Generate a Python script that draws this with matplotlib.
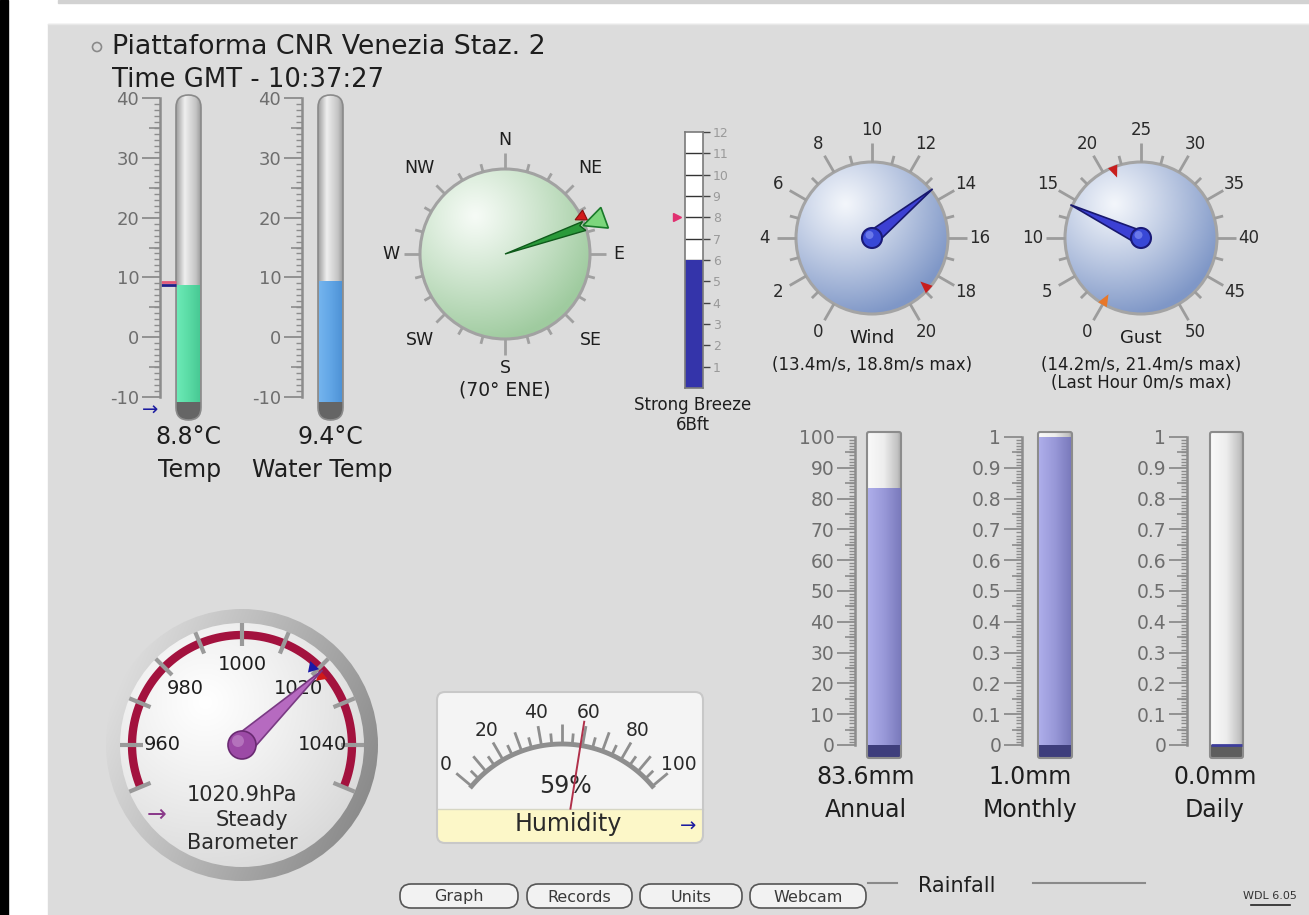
import numpy as np
import matplotlib.pyplot as plt
import matplotlib.colors as mcolors
from matplotlib.patches import Circle, Rectangle, Polygon, FancyBboxPatch
from matplotlib.ticker import MultipleLocator, FuncFormatter

plt.rcParams["font.family"] = ["DejaVu Sans"]
plt.rcParams["axes.unicode_minus"] = False

# ── Data ──────────────────────────────────────────────────────────────────────
station = "Piattaforma CNR Venezia Staz. 2"
time_gmt = "10:37:27"

temp_names = ["Temp", "Water Temp"]
temp_values = [8.8, 9.4]
temp_hi, temp_lo = 9.3, 8.7          # today's max / min marks on air temp

compass_points = ["N", "NE", "E", "SE", "S", "SW", "W", "NW"]
wind_dir = 70
wind_dir_name = "ENE"
wind_dir_mark = 64

bft_value = 6
bft_max = 8
bft_name = "Strong Breeze"

wind_speed, wind_max = 13.4, 18.8
gust_speed, gust_max, gust_hour = 14.2, 21.4, 0.0
wind_ticks = list(range(0, 21, 2))
gust_ticks = list(range(0, 51, 5))

pressure = 1020.9
pressure_lo, pressure_hi = 1018.8, 1021.8
pressure_trend = "Steady"
baro_labels = [960, 980, 1000, 1020, 1040]
baro_range = (950, 1050)

humidity = 59
hum_labels = [0, 20, 40, 60, 80, 100]

rain_names = ["Annual", "Monthly", "Daily"]
rain_values = [83.6, 1.0, 0.0]
rain_scale = [100, 1, 1]

buttons = ["Graph", "Records", "Units", "Webcam"]

# ── Style / layout ────────────────────────────────────────────────────────────
W, H = 1309, 915
PANEL = "#dcdcdc"
TICK = "#8c8c8c"
SCALE_TXT = "#6e6e6e"
TXT = "#1e1e1e"

fig = plt.figure(figsize=(W / 100, H / 100), dpi=100)
fig.patch.set_facecolor("white")
ax = fig.add_axes([0, 0, 1, 1])
ax.axis("off")


def rgb(c):
    return np.array(mcolors.to_rgb(c))


def hgrad(a, x0, x1, y0, y1, colors, stops, clip=None, z=2):
    t = np.linspace(0, 1, 100)
    cols = np.array([rgb(c) for c in colors])
    row = np.stack([np.interp(t, stops, cols[:, k]) for k in range(3)], axis=-1)
    img = np.repeat(row[None], 2, axis=0)
    im = a.imshow(img, extent=(x0, x1, y0, y1), aspect="auto", zorder=z,
                  interpolation="bilinear")
    if clip is not None:
        im.set_clip_path(clip)


def sphere(cx, cy, r, c_hi, c_lo, z=2, hx=-0.35, hy=-0.45, spread=1.5):
    xs = np.linspace(-1, 1, 240)
    X, Y = np.meshgrid(xs, xs)
    d = np.clip(np.hypot(X - hx, Y - hy) / spread, 0, 1) ** 1.1
    img = rgb(c_hi) * (1 - d[..., None]) + rgb(c_lo) * d[..., None]
    im = ax.imshow(img, extent=(cx - r, cx + r, cy + r, cy - r), origin="upper",
                   aspect="auto", zorder=z, interpolation="bilinear")
    im.set_clip_path(Circle((cx, cy), r, transform=ax.transData))


def pol(cx, cy, r, ang):
    a = np.deg2rad(ang)
    return cx + r * np.sin(a), cy - r * np.cos(a)


def shape(cx, cy, ang, pts, **kw):
    a = np.deg2rad(ang)
    ux, uy = np.sin(a), -np.cos(a)
    px, py = np.cos(a), np.sin(a)
    xy = [(cx + s * ux + t * px, cy + s * uy + t * py) for s, t in pts]
    ax.add_patch(Polygon(xy, closed=True, **kw))


def radial_tick(cx, cy, ang, r0, r1, **kw):
    x0, y0 = pol(cx, cy, r0, ang)
    x1, y1 = pol(cx, cy, r1, ang)
    ax.plot([x0, x1], [y0, y1], solid_capstyle="butt", **kw)


def scale_axes(x0, x1, y_top, y_bot, vmin, vmax, major, minor_len=4.5, mid_len=9,
               labelsize=12.5):
    a = fig.add_axes([x0 / W, 1 - y_bot / H, (x1 - x0) / W, (y_bot - y_top) / H])
    a.set_xlim(x0, x1)
    a.set_ylim(vmin, vmax)
    a.patch.set_visible(False)
    for s in ("top", "right", "bottom"):
        a.spines[s].set_visible(False)
    a.spines["left"].set_color(TICK)
    a.spines["left"].set_linewidth(1.8)
    a.set_xticks([])
    a.yaxis.set_major_locator(MultipleLocator(major))
    a.yaxis.set_minor_locator(MultipleLocator(major / 10))
    a.yaxis.set_major_formatter(FuncFormatter(lambda v, p: f"{v:.10g}"))
    a.tick_params(axis="y", which="major", length=13, width=1.3, color=TICK,
                  labelsize=labelsize, labelcolor=SCALE_TXT, pad=2)
    a.tick_params(axis="y", which="minor", length=minor_len * 0.72, width=1.0, color=TICK)
    mids = np.arange(vmin + major / 2, vmax, major)
    a.hlines(mids, x0 - mid_len, x0, color=TICK, lw=1.2, clip_on=False)
    return a


# ── Page chrome ───────────────────────────────────────────────────────────────
ax.add_patch(Rectangle((0, 0), 8, H, color="black", zorder=1))
ax.add_patch(Rectangle((48, 24), W - 48, H - 24, color=PANEL, zorder=0.5))
ax.add_patch(Rectangle((58, 0), W - 58, 3, color="#d2d2d2", zorder=1))
ax.plot([48, W], [23.5, 23.5], color="#e8e8e8", lw=1, zorder=1)

ax.add_patch(Circle((97, 47), 4.5, fc="none", ec="#8a8a8a", lw=1.2, zorder=3))
ax.text(112, 47, station, fontsize=19.3, color=TXT, va="center", ha="left", zorder=5)
ax.text(112, 80, f"Time GMT - {time_gmt}", fontsize=18.6, color=TXT, va="center",
        ha="left", zorder=5)

# ── Thermometers ──────────────────────────────────────────────────────────────
therm_x = [160, 302]
therm_fill = [["#6ceab6", "#5bdca6", "#48c994"], ["#74b4ee", "#62a6e6", "#4f93d6"]]
therm_lbl_x = [(188, 190), (330, 322)]
T_TOP, T_BOT = 98, 397
t_ppu = (T_BOT - T_TOP) / 50.0
therm_axes = []
for i, xs in enumerate(therm_x):
    tx0, tx1 = xs + 16, xs + 41
    tube = FancyBboxPatch((tx0, 95), tx1 - tx0, 325,
                          boxstyle="round,pad=0,rounding_size=12.5",
                          fc="none", ec="#8a8a8a", lw=1.2, zorder=3)
    ax.add_patch(tube)
    hgrad(ax, tx0, tx1, 95, 420, ["#9c9c9c", "#efefef", "#c4c4c4", "#9a9a9a"],
          [0, 0.35, 0.8, 1], clip=tube, z=2)
    bulb = Rectangle((tx0, T_BOT + 5), tx1 - tx0, 20, fc="#656565", zorder=2.5)
    ax.add_patch(bulb)
    bulb.set_clip_path(tube)

    a = scale_axes(xs, tx1 + 2, T_TOP, T_BOT, -10, 40, 10, minor_len=6, mid_len=11,
                   labelsize=13)
    bottom = -10 - 5 / t_ppu
    bar = a.bar((tx0 + tx1) / 2, temp_values[i] - bottom, bottom=bottom,
                width=tx1 - tx0 - 2, color=therm_fill[i][1], zorder=3, clip_on=False)[0]
    hgrad(a, tx0 + 1, tx1 - 1, bottom, temp_values[i], therm_fill[i], [0, 0.5, 1],
          clip=bar, z=3.5)
    a.set_xlim(xs, tx1 + 2)
    a.set_ylim(-10, 40)
    therm_axes.append(a)

    lx1, lx2 = therm_lbl_x[i]
    ax.text(lx1, 437, f"{temp_values[i]:.1f}°C", fontsize=17, color=TXT,
            ha="center", va="center", zorder=5)
    ax.text(lx2, 470, temp_names[i], fontsize=17, color=TXT, ha="center",
            va="center", zorder=5)

a0 = therm_axes[0]
a0.hlines([temp_hi], therm_x[0] + 1, therm_x[0] + 16, color="#e05878", lw=2, clip_on=False)
a0.hlines([temp_lo], therm_x[0] + 1, therm_x[0] + 16, color="#20208a", lw=2, clip_on=False)
ax.text(150, 410, "→", fontsize=14, color="#1c1ca0", ha="center", va="center", zorder=5)

# ── Wind direction compass ────────────────────────────────────────────────────
ccx, ccy, cr = 505, 254, 85
sphere(ccx, ccy, cr, "#f6fbf6", "#9fcb9f", z=2)
ax.add_patch(Circle((ccx, ccy), cr, fc="none", ec="#a2a2a2", lw=2.2, zorder=3))
for ang in range(0, 360, 15):
    if ang % 90 == 0:
        r1 = 101
    elif ang % 45 == 0:
        r1 = 97
    else:
        r1 = 93
    radial_tick(ccx, ccy, ang, cr, r1, color="#a0a0a0", lw=2, zorder=3)
for k, name in enumerate(compass_points):
    ang = k * 45
    r = 114 if k % 2 == 0 else 121
    x, y = pol(ccx, ccy, r, ang)
    ax.text(x, y, name, fontsize=12.5, color=TXT, ha="center", va="center", zorder=5)
ax.text(ccx, 390, f"({wind_dir}° {wind_dir_name})", fontsize=13.5, color=TXT,
        ha="center", va="center", zorder=5)
shape(ccx, ccy, wind_dir_mark, [(78, 0), (89, 5.5), (89, -5.5)], fc="#d21a1a",
      ec="#8a0c0c", lw=0.8, zorder=6)
shape(ccx, ccy, wind_dir, [(0, 0), (84, 5.5), (80, -1), (84, -4)], fc="#2a9a3a",
      ec="#0e5a1a", lw=1, zorder=6)
shape(ccx, ccy, wind_dir, [(83, 0), (106, 11), (106, -11)], fc="#7cd67c",
      ec="#1a7a2a", lw=1.2, zorder=6)

# ── Beaufort bar ──────────────────────────────────────────────────────────────
bx0, bx1, b_top, b_bot = 685, 703, 132, 388
ab = fig.add_axes([bx0 / W, 1 - b_bot / H, (bx1 - bx0) / W, (b_bot - b_top) / H])
ab.set_xlim(bx0, bx1)
ab.set_ylim(0, 12)
ab.patch.set_facecolor("white")
for s in ab.spines.values():
    s.set_color("#7a7a7a")
    s.set_linewidth(1.2)
ab.set_xticks([])
ab.yaxis.tick_right()
ab.set_yticks(range(1, 13))
ab.tick_params(axis="y", length=5, width=1, color="#444444", labelsize=9,
               labelcolor="#9a9a9a", pad=2)
ab.hlines(range(1, 12), bx0, bx1, color="#333333", lw=1, zorder=1)
ab.bar((bx0 + bx1) / 2, bft_value, width=bx1 - bx0, color="#3434aa", zorder=2)
ab.plot([bx0 - 8], [bft_max], marker=">", ms=6, color="#e03070", clip_on=False)
ax.text(693, 405, bft_name, fontsize=12, color=TXT, ha="center", va="center", zorder=5)
ax.text(693, 425, f"{bft_value}Bft", fontsize=12, color=TXT, ha="center", va="center",
        zorder=5)


# ── Wind / gust dials ─────────────────────────────────────────────────────────
def dial(cx, cy, ticks, value, vmark, mark_col, title, subs, extra=None):
    vmin, vmax = ticks[0], ticks[-1]

    def ang(v):
        return -150 + 300 * (v - vmin) / (vmax - vmin)

    r = 76
    sphere(cx, cy, r, "#f3f6fb", "#7f97c7", z=2)
    ax.add_patch(Circle((cx, cy), r, fc="none", ec="#a4a4a4", lw=2.2, zorder=3))
    step = ticks[1] - ticks[0]
    for v in ticks:
        radial_tick(cx, cy, ang(v), r, 95, color="#9c9c9c", lw=2, zorder=3)
        x, y = pol(cx, cy, 108, ang(v))
        ax.text(x, y, f"{v}", fontsize=12, color="#2a2a2a", ha="center", va="center",
                zorder=5)
    for v in ticks[:-1]:
        radial_tick(cx, cy, ang(v + step / 2), r, 85, color="#9c9c9c", lw=2, zorder=3)
    shape(cx, cy, ang(vmark), [(65, 0), (77, 5), (77, -5)], fc=mark_col, ec="none", zorder=6)
    if extra is not None:
        shape(cx, cy, ang(extra), [(65, 0), (77, 5), (77, -5)], fc="#e8782a", ec="none",
              zorder=6)
    shape(cx, cy, ang(value), [(0, 7), (78, 0), (0, -7)], fc="#3c40d4", ec="#18186e",
          lw=1.2, zorder=6)
    ax.add_patch(Circle((cx, cy), 10, fc="#3848d6", ec="#1a1a78", lw=1.5, zorder=7))
    ax.add_patch(Circle((cx - 2.5, cy - 3), 4, fc="#6a78ea", ec="none", zorder=7))
    ax.text(cx, 338, title, fontsize=13, color=TXT, ha="center", va="center", zorder=5)
    for k, s in enumerate(subs):
        ax.text(cx, 365 + 18 * k, s, fontsize=12, color=TXT, ha="center", va="center",
                zorder=5)


dial(872, 238, wind_ticks, wind_speed, wind_max, "#c81e1e", "Wind",
     [f"({wind_speed}m/s, {wind_max}m/s max)"])
dial(1141, 238, gust_ticks, gust_speed, gust_max, "#c81e1e", "Gust",
     [f"({gust_speed}m/s, {gust_max}m/s max)", f"(Last Hour {gust_hour:.0f}m/s max)"],
     extra=gust_hour)

# ── Barometer ─────────────────────────────────────────────────────────────────
pcx, pcy = 242, 745
p0, p1 = baro_range


def pang(v):
    return (v - 1000) * 90 / 40.0


xs_ = np.linspace(-1, 1, 300)
X, Y = np.meshgrid(xs_, xs_)
d = np.clip((X * 0.85 + Y * 0.35 + 1.1) / 2.2, 0, 1)
ring = rgb("#e4e4e4") * (1 - d[..., None]) + rgb("#848484") * d[..., None]
im = ax.imshow(ring, extent=(pcx - 136, pcx + 136, pcy + 136, pcy - 136), origin="upper",
               aspect="auto", zorder=2, interpolation="bilinear")
im.set_clip_path(Circle((pcx, pcy), 136, transform=ax.transData))
sphere(pcx, pcy, 122, "#ffffff", "#d6d6d6", z=2.5, hx=-0.3, hy=-0.35, spread=1.6)
angs = np.linspace(pang(p0), pang(p1), 200)
arc = np.array([pol(pcx, pcy, 110, a_) for a_ in angs])
ax.plot(arc[:, 0], arc[:, 1], color="#a3123e", lw=6, solid_capstyle="butt", zorder=3)
for v in range(p0, p1 + 1, 10):
    radial_tick(pcx, pcy, pang(v), 99, 122, color="#9a9a9a", lw=3, zorder=3.5)
for v in baro_labels:
    x, y = pol(pcx, pcy, 80, pang(v))
    ax.text(x, y, f"{v}", fontsize=14, color="#1e1e1e", ha="center", va="center",
            zorder=5)
shape(pcx, pcy, pang(pressure_lo), [(98, 0), (108, 6), (108, -6)], fc="#1a1aa8",
      ec="none", zorder=6)
shape(pcx, pcy, pang(pressure_hi), [(98, 0), (108, 6), (108, -6)], fc="#d01a1a",
      ec="none", zorder=6)
shape(pcx, pcy, pang(pressure), [(0, 11), (110, 0), (0, -11)], fc="#b66ac0",
      ec="#7a3a84", lw=1.2, zorder=6)
ax.add_patch(Circle((pcx, pcy), 14, fc="#9c4aa6", ec="#6a2a72", lw=1.2, zorder=7))
ax.add_patch(Circle((pcx - 4, pcy - 4), 6, fc="#b472bc", ec="none", zorder=7))
ax.text(pcx, 795, f"{pressure}hPa", fontsize=15, color="#2a2a2a", ha="center",
        va="center", zorder=5)
ax.text(pcx + 10, 820, pressure_trend, fontsize=15, color="#2a2a2a", ha="center",
        va="center", zorder=5)
ax.text(pcx, 843, "Barometer", fontsize=15, color="#2a2a2a", ha="center", va="center",
        zorder=5)
ax.text(157, 815, "→", fontsize=17, color="#8a3a8a", ha="center", va="center", zorder=5)

# ── Humidity ──────────────────────────────────────────────────────────────────
hx0, hx1, hy0, hy1, hband = 437, 703, 692, 843, 809
ax.add_patch(FancyBboxPatch((hx0, hy0), hx1 - hx0, hy1 - hy0,
                            boxstyle="round,pad=0,rounding_size=8",
                            fc="#f4f4f4", ec="none", zorder=2))
ax.add_patch(FancyBboxPatch((hx0, hband), hx1 - hx0, hy1 - hband,
                            boxstyle="round,pad=0,rounding_size=8",
                            fc="#fcf7c8", ec="none", zorder=2.2))
ax.add_patch(Rectangle((hx0, hband), hx1 - hx0, 10, fc="#fcf7c8", ec="none", zorder=2.2))
ax.plot([hx0, hx1], [hband, hband], color="#d6d6c4", lw=1, zorder=2.4)
ax.add_patch(FancyBboxPatch((hx0, hy0), hx1 - hx0, hy1 - hy0,
                            boxstyle="round,pad=0,rounding_size=8",
                            fc="none", ec="#c8c8c8", lw=1.5, zorder=2.5))
hcx, hcy, hr = 562, 862, 118


def hang(v):
    return -50 + v


angs = np.linspace(hang(0), hang(100), 120)
arc = np.array([pol(hcx, hcy, hr, a_) for a_ in angs])
ax.plot(arc[:, 0], arc[:, 1], color="#8e8e8e", lw=3.5, zorder=3)
for v in range(0, 101, 5):
    radial_tick(hcx, hcy, hang(v), hr - 1, hr + (20 if v % 10 == 0 else 11),
                color="#8e8e8e", lw=2, zorder=3)
for v in hum_labels:
    x, y = pol(hcx, hcy, 152, hang(v))
    ax.text(x, y, f"{v}", fontsize=13.5, color="#2a2a2a", ha="center", va="center",
            zorder=5)
x0, y0 = pol(hcx, hcy, 54, hang(humidity))
x1, y1 = pol(hcx, hcy, 142, hang(humidity))
ax.plot([x0, x1], [y0, y1], color="#b0304a", lw=1.4, zorder=6)
ax.text(565, 786, f"{humidity}%", fontsize=17, color="#2a2a2a", ha="center",
        va="center", zorder=5)
ax.text(568, 824, "Humidity", fontsize=17, color="#2a2a2a", ha="center", va="center",
        zorder=5)
ax.text(688, 826, "→", fontsize=14, color="#1c1ca0", ha="center", va="center", zorder=5)

# ── Rainfall ──────────────────────────────────────────────────────────────────
rain_x = [855, 1022, 1187]
rain_tube = [(867, 901), (1038, 1072), (1210, 1243)]
rain_lbl_x = [866, 1030, 1215]
R_TOP, R_BOT = 437, 745
for i, xs in enumerate(rain_x):
    tx0, tx1 = rain_tube[i]
    tube = FancyBboxPatch((tx0, R_TOP - 5), tx1 - tx0, R_BOT + 13 - (R_TOP - 5),
                          boxstyle="round,pad=0,rounding_size=2",
                          fc="none", ec="#8c8c8c", lw=1.5, zorder=3)
    ax.add_patch(tube)
    hgrad(ax, tx0, tx1, R_TOP - 5, R_BOT + 13, ["#fafafa", "#ededed", "#c2c2c2", "#a8a8a8"],
          [0, 0.5, 0.9, 1], clip=tube, z=2)
    base = Rectangle((tx0, R_BOT), tx1 - tx0, 13,
                     fc="#3e3e7c" if rain_values[i] > 0 else "#5e5e5e", zorder=2.5)
    ax.add_patch(base)
    base.set_clip_path(tube)

    vmax = rain_scale[i]
    a = scale_axes(xs, tx1 + 2, R_TOP, R_BOT, 0, vmax, vmax / 10, minor_len=6, mid_len=10,
                   labelsize=13.5)
    if rain_values[i] > 0:
        bar = a.bar((tx0 + tx1) / 2, rain_values[i], width=tx1 - tx0 - 2,
                    color="#9a9ad8", zorder=3, clip_on=False)[0]
        hgrad(a, tx0 + 1, tx1 - 1, 0, rain_values[i], ["#aeaeea", "#9898d8", "#7a7abc"],
              [0, 0.5, 1], clip=bar, z=3.5)
    else:
        a.hlines([0], tx0 + 1, tx1 - 1, color="#3e3e9c", lw=2, zorder=4, clip_on=False)
    a.set_xlim(xs, tx1 + 2)
    a.set_ylim(0, vmax)

    ax.text(rain_lbl_x[i], 777, f"{rain_values[i]:.1f}mm", fontsize=17, color=TXT,
            ha="center", va="center", zorder=5)
    ax.text(rain_lbl_x[i], 810, rain_names[i], fontsize=17, color=TXT, ha="center",
            va="center", zorder=5)

ax.text(957, 886, "Rainfall", fontsize=15, color=TXT, ha="center", va="center", zorder=5)
ax.plot([868, 897], [883, 883], color="#8a8a8a", lw=1.5, zorder=3)
ax.plot([1033, 1145], [883, 883], color="#8a8a8a", lw=1.5, zorder=3)
ax.text(1270, 896, "WDL 6.05", fontsize=8, color="#333333", ha="center", va="center",
        zorder=5)
ax.plot([1251, 1290], [905, 905], color="#222222", lw=1.2, zorder=5)

# ── Buttons ───────────────────────────────────────────────────────────────────
btn_span = [(400, 518), (527, 632), (640, 742), (750, 866)]
for name, (b0, b1) in zip(buttons, btn_span):
    ax.add_patch(FancyBboxPatch((b0, 884), b1 - b0, 24,
                                boxstyle="round,pad=0,rounding_size=11",
                                fc="#f2f2f2", ec="#555555", lw=1.2, zorder=3))
    ax.text((b0 + b1) / 2, 897, name, fontsize=11.5, color="#3a3a3a", ha="center",
            va="center", zorder=5)

ax.set_xlim(0, W)
ax.set_ylim(H, 0)
fig.savefig("out.png", dpi=100, facecolor=fig.get_facecolor())
